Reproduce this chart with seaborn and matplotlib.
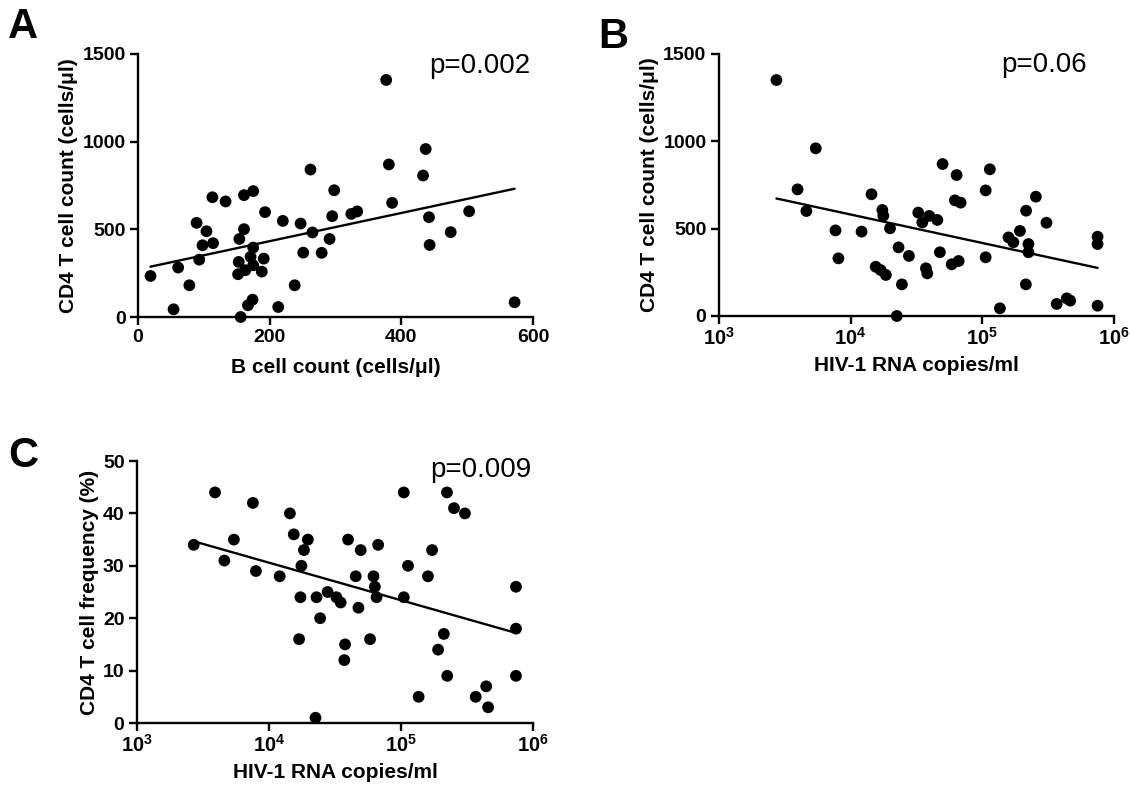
import numpy as np
import pandas as pd
import matplotlib
matplotlib.use("Agg")
import matplotlib.pyplot as plt
import matplotlib.ticker as mticker
import seaborn as sns

# Panel A: B cell count vs CD4 T cell count
b_cells = [377, 437, 381, 433, 262, 298, 386, 442, 503, 475, 443, 572,
           19, 54, 61, 78, 89, 104, 93, 98, 114, 113, 133, 161, 175,
           161, 154, 175, 171, 153, 175, 191, 163, 152, 188, 174, 167,
           156, 193, 213, 220, 238, 247, 251, 265, 279, 291, 295, 324, 333]
cd4_a = [1352, 958, 870, 807, 841, 723, 651, 569, 603, 484, 411, 84,
         234, 44, 282, 181, 537, 489, 327, 409, 421, 683, 659, 695, 718,
         501, 445, 396, 343, 314, 295, 333, 267, 244, 259, 99, 67,
         0, 598, 57, 548, 181, 533, 367, 482, 366, 445, 575, 588, 602]

# Panel B: viral load vs CD4 T cell count
rna_b = [2730, 3950, 5430, 4610, 7670, 8070, 12100, 14400, 17400, 17700,
         19900, 15500, 16900, 18500, 23100, 24500, 22400, 27700, 32600,
         35000, 39500, 45500, 37300, 38200, 47600, 49900, 63800, 61900,
         68400, 58500, 66100, 106000, 114000, 106000, 136000, 158000,
         172000, 193000, 215000, 255000, 224000, 224000, 214000, 307000,
         367000, 438000, 465000, 750000, 750000, 750000]
cd4_b = [1351, 725, 960, 601, 490, 330, 483, 697, 607, 574,
         502, 282, 263, 235, 393, 181, 0, 344, 592,
         536, 573, 550, 273, 244, 365, 870, 807, 662,
         649, 296, 315, 719, 840, 336, 44, 450,
         422, 487, 603, 683, 412, 365, 181, 534,
         69, 101, 88, 454, 412, 59]

# Panel C: viral load vs CD4 T cell frequency
rna_c = [2690, 3900, 4590, 5420, 7550, 7960, 12050, 14400, 15400, 19700,
         18400, 17600, 17300, 16900, 22900, 24400, 22500, 27800, 32400,
         34900, 39700, 45400, 47600, 49500, 37700, 37200, 61900, 63400,
         65300, 67100, 58300, 105000, 105000, 113000, 136000, 160000,
         172000, 211000, 191000, 223000, 252000, 305000, 224000, 368000,
         442000, 457000, 743000, 743000, 743000]
cd4_freq = [34, 44, 31, 35, 42, 29, 28, 40, 36, 35,
            33, 30, 24, 16, 24, 20, 1, 25, 24,
            23, 35, 28, 22, 33, 15, 12, 28, 26,
            24, 34, 16, 44, 24, 30, 5, 28,
            33, 17, 14, 44, 41, 40, 9, 5,
            7, 3, 26, 18, 9]

p_labels = ["p=0.002", "p=0.06", "p=0.009"]
panel_letters = ["A", "B", "C"]
log_tick_labels = [r"$10^{3}$", r"$10^{4}$", r"$10^{5}$", r"$10^{6}$"]

sns.set_style("ticks")
plt.rcParams["font.family"] = ["Liberation Sans", "DejaVu Sans"]
plt.rcParams.update({
    "font.weight": "bold",
    "axes.labelweight": "bold",
    "axes.linewidth": 1.7,
    "text.color": "black",
    "axes.labelcolor": "black",
    "axes.edgecolor": "black",
    "xtick.color": "black",
    "ytick.color": "black",
    "mathtext.fontset": "custom",
    "mathtext.rm": "Liberation Sans:bold",
    "mathtext.it": "Liberation Sans:bold",
    "mathtext.bf": "Liberation Sans:bold",
    "mathtext.default": "rm",
})

fig = plt.figure(figsize=(11.3, 7.86), dpi=100)

W, H = 1130, 786
def rect(left, top, right, bottom):
    return [left / W, 1 - bottom / H, (right - left) / W, (bottom - top) / H]

ax_a = fig.add_axes(rect(138, 54, 533, 317))
ax_b = fig.add_axes(rect(719, 54, 1114, 316))
ax_c = fig.add_axes(rect(137, 461, 533, 723))

scatter_kws = dict(s=72, color="black", edgecolor="none", alpha=1, clip_on=False, zorder=3)
line_kws = dict(color="black", linewidth=1.7)

df_a = pd.DataFrame({"x": b_cells, "y": cd4_a})
df_b = pd.DataFrame({"x": rna_b, "y": cd4_b})
df_c = pd.DataFrame({"x": rna_c, "y": cd4_freq})

sns.regplot(data=df_a, x="x", y="y", ax=ax_a, ci=None, scatter_kws=scatter_kws, line_kws=line_kws)
sns.regplot(data=df_b, x="x", y="y", ax=ax_b, ci=None, logx=True, scatter_kws=scatter_kws, line_kws=line_kws)
sns.regplot(data=df_c, x="x", y="y", ax=ax_c, ci=None, logx=True, scatter_kws=scatter_kws, line_kws=line_kws)

ax_a.set_xlim(0, 600)
ax_a.set_ylim(0, 1500)
ax_a.set_xticks([0, 200, 400, 600])
ax_a.set_yticks([0, 500, 1000, 1500])
ax_a.set_xlabel("B cell count (cells/\u03bcl)")
ax_a.set_ylabel("CD4 T cell count (cells/\u03bcl)")

for ax in (ax_b, ax_c):
    ax.set_xscale("log")
    ax.set_xlim(1e3, 1e6)
    ax.xaxis.set_major_locator(mticker.FixedLocator([1e3, 1e4, 1e5, 1e6]))
    ax.xaxis.set_major_formatter(mticker.FixedFormatter(log_tick_labels))
    ax.xaxis.set_minor_locator(mticker.NullLocator())
    ax.set_xlabel("HIV-1 RNA copies/ml")

ax_b.set_ylim(0, 1500)
ax_b.set_yticks([0, 500, 1000, 1500])
ax_b.set_ylabel("CD4 T cell count (cells/\u03bcl)")

ax_c.set_ylim(0, 50)
ax_c.set_yticks([0, 10, 20, 30, 40, 50])
ax_c.set_ylabel("CD4 T cell frequency (%)")

p_pos = [(0.992, 0.928), (0.932, 0.931), (0.997, 0.939)]
for ax, lab, (px, py) in zip((ax_a, ax_b, ax_c), p_labels, p_pos):
    sns.despine(ax=ax)
    ax.tick_params(axis="both", direction="out", length=6, width=1.7,
                   labelsize=14, pad=3)
    ax.xaxis.label.set_fontsize(15)
    ax.yaxis.label.set_fontsize(15)
    ax.xaxis.labelpad = 8
    ax.yaxis.labelpad = 3
    ax.text(px, py, lab, transform=ax.transAxes, ha="right", va="baseline",
            fontsize=20, fontweight="normal")

for ax in (ax_b, ax_c):
    ax.tick_params(axis="x", labelsize=14.5, pad=2)
    ax.xaxis.labelpad = 5

letter_pos = [(8, 38), (598, 48), (8, 467)]
for lab, (lx, ly) in zip(panel_letters, letter_pos):
    fig.text(lx / W, 1 - ly / H, lab, fontsize=30, fontweight="bold",
             ha="left", va="baseline")

fig.savefig("out.png", dpi=100)
